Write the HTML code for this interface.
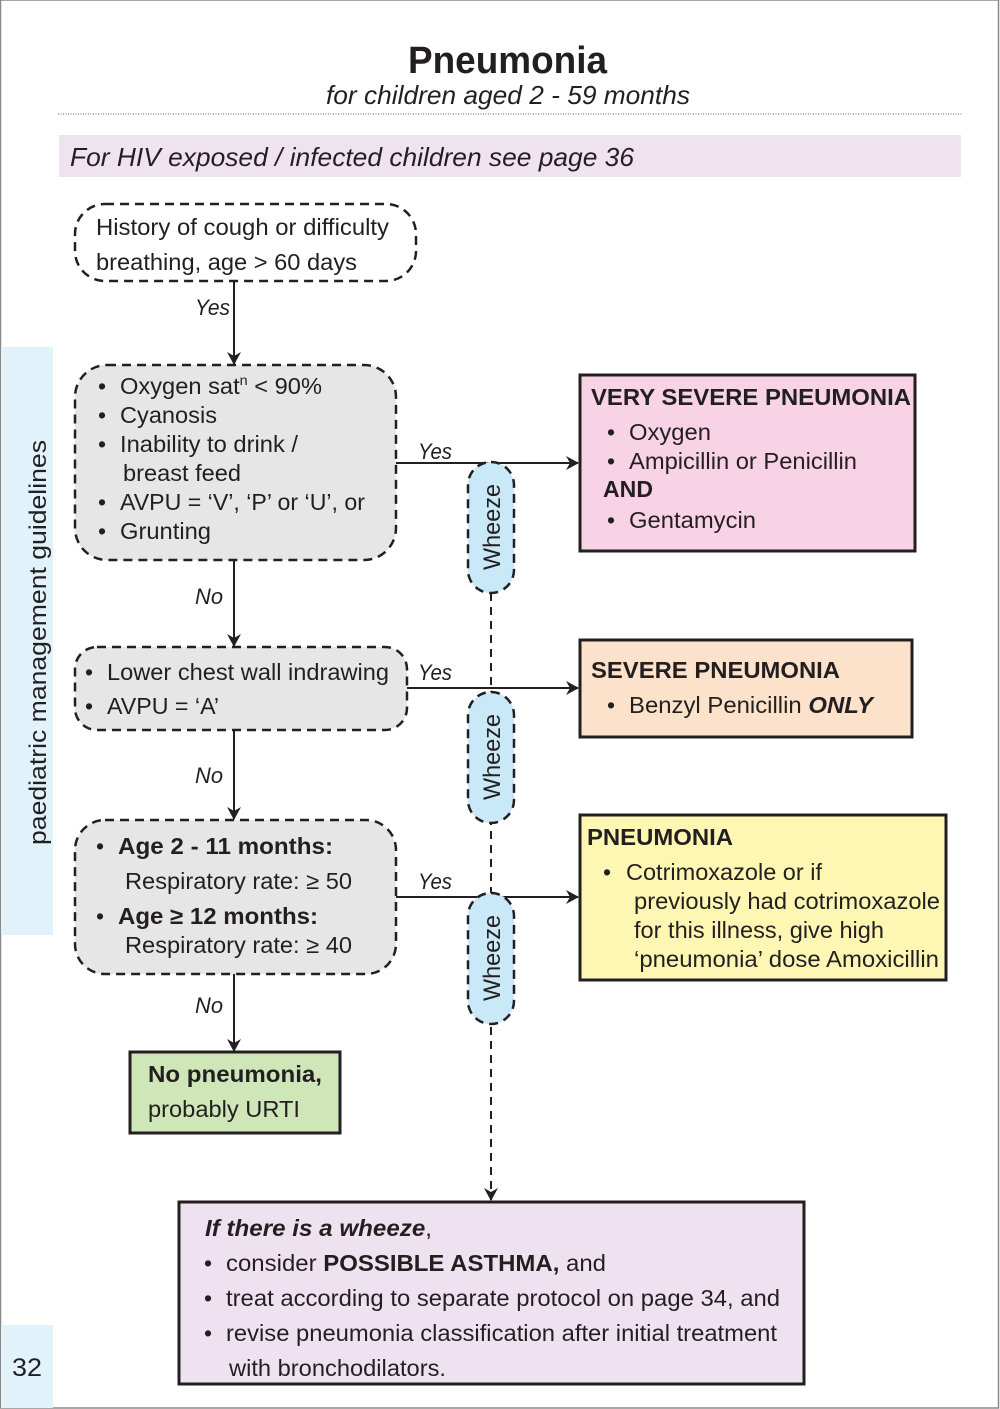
<!DOCTYPE html>
<html><head><meta charset="utf-8"><style>
html,body{margin:0;padding:0;background:#fff}
svg{display:block}
text{font-family:"Liberation Sans",sans-serif;fill:#231f20}
</style></head><body>
<svg width="1000" height="1409" viewBox="0 0 1000 1409" xmlns="http://www.w3.org/2000/svg">
<defs>
<marker id="ar" markerWidth="14" markerHeight="14" refX="12" refY="7" orient="auto" markerUnits="userSpaceOnUse">
<path d="M0,0 L13,7 L0,14 L4,7 Z" fill="#231f20"/></marker>
</defs>
<rect x="0.5" y="0" width="998" height="1408" fill="none" stroke="#888" stroke-width="1.5"/>
<rect x="1" y="347" width="52" height="588" fill="#e1f2fb"/>
<rect x="1" y="1325" width="52" height="83" fill="#e1f2fb"/>
<text transform="translate(46,845) rotate(-90)" font-size="24" textLength="405" lengthAdjust="spacingAndGlyphs">paediatric management guidelines</text>
<text x="12" y="1376" font-size="25" textLength="30" lengthAdjust="spacingAndGlyphs">32</text>

<text x="408" y="73" font-size="38" font-weight="bold" textLength="199" lengthAdjust="spacingAndGlyphs">Pneumonia</text>
<text x="326" y="104" font-size="26" font-style="italic" textLength="364" lengthAdjust="spacingAndGlyphs">for children aged 2 - 59 months</text>
<line x1="58" y1="114" x2="962" y2="114" stroke="#999" stroke-width="1.5" stroke-dasharray="1,1.5"/>
<rect x="59" y="135" width="902" height="42" fill="#f0e3f0"/>
<text x="70" y="166" font-size="26" font-style="italic" textLength="564" lengthAdjust="spacingAndGlyphs">For HIV exposed / infected children see page 36</text>

<!-- connectors -->
<g stroke="#231f20" stroke-width="2" fill="none">
<line x1="234" y1="281" x2="234" y2="364" marker-end="url(#ar)"/>
<line x1="234" y1="560" x2="234" y2="646" marker-end="url(#ar)"/>
<line x1="234" y1="730" x2="234" y2="819" marker-end="url(#ar)"/>
<line x1="234" y1="974" x2="234" y2="1051" marker-end="url(#ar)"/>
<line x1="396" y1="463" x2="578" y2="463" marker-end="url(#ar)"/>
<line x1="407" y1="688" x2="578" y2="688" marker-end="url(#ar)"/>
<line x1="396" y1="897" x2="578" y2="897" marker-end="url(#ar)"/>
<line x1="491" y1="593" x2="491" y2="1200" stroke-dasharray="8,6" marker-end="url(#ar)"/>
</g>

<!-- decision boxes -->
<g stroke="#231f20" stroke-width="2.5" stroke-dasharray="9,6">
<rect x="75" y="204" width="341" height="77" rx="30" fill="#fff"/>
<rect x="75" y="365" width="321" height="195" rx="32" fill="#e6e6e6"/>
<rect x="75" y="647" width="332" height="83" rx="22" fill="#e6e6e6"/>
<rect x="75" y="820" width="321" height="154" rx="30" fill="#e6e6e6"/>
<rect x="468" y="462" width="46" height="131" rx="23" fill="#c9e9f9"/>
<rect x="468" y="692" width="46" height="131" rx="23" fill="#c9e9f9"/>
<rect x="468" y="893" width="46" height="131" rx="23" fill="#c9e9f9"/>
</g>
<g font-size="24">
<text transform="translate(500,570) rotate(-90)" textLength="86" lengthAdjust="spacingAndGlyphs">Wheeze</text>
<text transform="translate(500,800) rotate(-90)" textLength="86" lengthAdjust="spacingAndGlyphs">Wheeze</text>
<text transform="translate(500,1001) rotate(-90)" textLength="86" lengthAdjust="spacingAndGlyphs">Wheeze</text>
</g>

<!-- outcome boxes -->
<g stroke="#231f20" stroke-width="3">
<rect x="580" y="375" width="335" height="176" fill="#f8d3e5"/>
<rect x="580" y="640" width="332" height="97" fill="#fde2cb"/>
<rect x="580" y="815" width="366" height="165" fill="#fdf7b3"/>
<rect x="130" y="1052" width="210" height="81" fill="#cfe6b8"/>
<rect x="179" y="1202" width="625" height="182" fill="#efe2f0"/>
</g>

<g font-size="23">
<text x="96" y="235" textLength="293" lengthAdjust="spacingAndGlyphs">History of cough or difficulty</text>
<text x="96" y="270" textLength="261" lengthAdjust="spacingAndGlyphs">breathing, age &gt; 60 days</text>

<text x="98" y="394">•</text><text x="120" y="394" textLength="202" lengthAdjust="spacingAndGlyphs">Oxygen sat<tspan font-size="14" dy="-9">n</tspan><tspan dy="9"> &lt; 90%</tspan></text>
<text x="98" y="423">•</text><text x="120" y="423" textLength="97" lengthAdjust="spacingAndGlyphs">Cyanosis</text>
<text x="98" y="452">•</text><text x="120" y="452" textLength="178" lengthAdjust="spacingAndGlyphs">Inability to drink /</text>
<text x="123" y="481" textLength="118" lengthAdjust="spacingAndGlyphs">breast feed</text>
<text x="98" y="510">•</text><text x="120" y="510" textLength="245" lengthAdjust="spacingAndGlyphs">AVPU = ‘V’, ‘P’ or ‘U’, or</text>
<text x="98" y="539">•</text><text x="120" y="539" textLength="91" lengthAdjust="spacingAndGlyphs">Grunting</text>

<text x="85" y="680">•</text><text x="107" y="680" textLength="282" lengthAdjust="spacingAndGlyphs">Lower chest wall indrawing</text>
<text x="85" y="714">•</text><text x="107" y="714" textLength="112" lengthAdjust="spacingAndGlyphs">AVPU = ‘A’</text>

<text x="96" y="854">•</text><text x="118" y="854" font-weight="bold" textLength="215" lengthAdjust="spacingAndGlyphs">Age 2 - 11 months:</text>
<text x="125" y="889" textLength="227" lengthAdjust="spacingAndGlyphs">Respiratory rate: ≥ 50</text>
<text x="96" y="924">•</text><text x="118" y="924" font-weight="bold" textLength="200" lengthAdjust="spacingAndGlyphs">Age ≥ 12 months:</text>
<text x="125" y="953" textLength="227" lengthAdjust="spacingAndGlyphs">Respiratory rate: ≥ 40</text>

<text x="591" y="405" font-weight="bold" textLength="320" lengthAdjust="spacingAndGlyphs">VERY SEVERE PNEUMONIA</text>
<text x="607" y="440">•</text><text x="629" y="440" textLength="82" lengthAdjust="spacingAndGlyphs">Oxygen</text>
<text x="607" y="469">•</text><text x="629" y="469" textLength="228" lengthAdjust="spacingAndGlyphs">Ampicillin or Penicillin</text>
<text x="603" y="497" font-weight="bold" textLength="50" lengthAdjust="spacingAndGlyphs">AND</text>
<text x="607" y="528">•</text><text x="629" y="528" textLength="127" lengthAdjust="spacingAndGlyphs">Gentamycin</text>

<text x="591" y="678" font-weight="bold" textLength="249" lengthAdjust="spacingAndGlyphs">SEVERE PNEUMONIA</text>
<text x="607" y="713">•</text><text x="629" y="713" textLength="244" lengthAdjust="spacingAndGlyphs">Benzyl Penicillin <tspan font-weight="bold" font-style="italic">ONLY</tspan></text>

<text x="587" y="845" font-weight="bold" textLength="146" lengthAdjust="spacingAndGlyphs">PNEUMONIA</text>
<text x="603" y="880">•</text><text x="626" y="880" textLength="196" lengthAdjust="spacingAndGlyphs">Cotrimoxazole or if</text>
<text x="634" y="909" textLength="306" lengthAdjust="spacingAndGlyphs">previously had cotrimoxazole</text>
<text x="634" y="938" textLength="250" lengthAdjust="spacingAndGlyphs">for this illness, give high</text>
<text x="634" y="967" textLength="305" lengthAdjust="spacingAndGlyphs">‘pneumonia’ dose Amoxicillin</text>

<text x="148" y="1082" font-weight="bold" textLength="174" lengthAdjust="spacingAndGlyphs">No pneumonia,</text>
<text x="148" y="1117" textLength="152" lengthAdjust="spacingAndGlyphs">probably URTI</text>

<text x="205" y="1236" textLength="227" lengthAdjust="spacingAndGlyphs"><tspan font-weight="bold" font-style="italic">If there is a wheeze</tspan>,</text>
<text x="204" y="1271">•</text><text x="226" y="1271" textLength="380" lengthAdjust="spacingAndGlyphs">consider <tspan font-weight="bold">POSSIBLE ASTHMA,</tspan> and</text>
<text x="204" y="1306">•</text><text x="226" y="1306" textLength="554" lengthAdjust="spacingAndGlyphs">treat according to separate protocol on page 34, and</text>
<text x="204" y="1341">•</text><text x="226" y="1341" textLength="551" lengthAdjust="spacingAndGlyphs">revise pneumonia classification after initial treatment</text>
<text x="229" y="1376" textLength="217" lengthAdjust="spacingAndGlyphs">with bronchodilators.</text>
</g>

<g font-size="22" font-style="italic">
<text x="195" y="315" textLength="35" lengthAdjust="spacingAndGlyphs">Yes</text>
<text x="418" y="459" textLength="34" lengthAdjust="spacingAndGlyphs">Yes</text>
<text x="418" y="680" textLength="34" lengthAdjust="spacingAndGlyphs">Yes</text>
<text x="418" y="889" textLength="34" lengthAdjust="spacingAndGlyphs">Yes</text>
<text x="195" y="604" textLength="28" lengthAdjust="spacingAndGlyphs">No</text>
<text x="195" y="783" textLength="28" lengthAdjust="spacingAndGlyphs">No</text>
<text x="195" y="1013" textLength="28" lengthAdjust="spacingAndGlyphs">No</text>
</g>
</svg>
</body></html>
